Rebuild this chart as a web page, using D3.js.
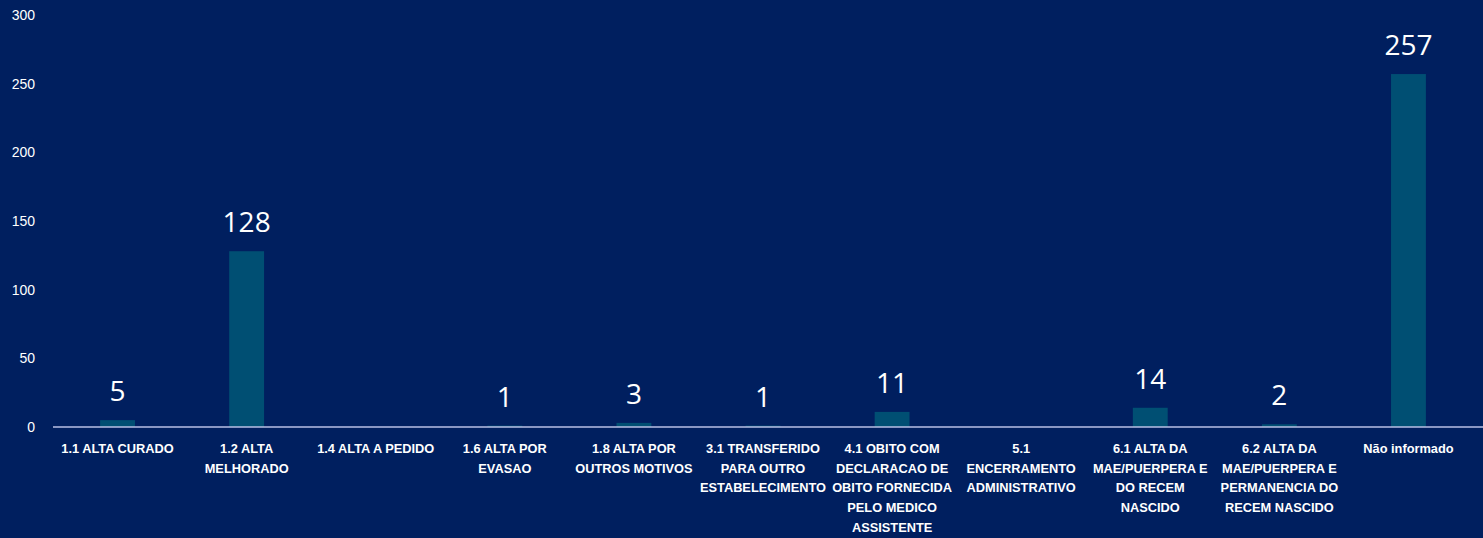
<!DOCTYPE html>
<html lang="pt">
<head>
    <meta charset="UTF-8">
    <title>Tipo de alta</title>
    <style>
        body { margin: 0; background: #001f5f; }
        svg { display: block; background: #001f5f; }
        .y-axis text { fill: #ffffff; font-family: "Liberation Sans", Arial, sans-serif; font-size: 14px; }
        .x-axis text { fill: #ffffff; font-family: "Liberation Sans", Arial, sans-serif; font-size: 12.8px; font-weight: bold; }
        .valor { fill: #ffffff; font-family: "Open Sans", sans-serif; font-size: 28px; text-anchor: middle; }
    </style>
</head>
<body>
    <svg id="grafico" width="1483" height="538"></svg>

    <script src="https://d3js.org/d3.v7.min.js"></script>
    <script>
        // dados
        const categorias = [
            "1.1 ALTA CURADO",
            "1.2 ALTA MELHORADO",
            "1.4 ALTA A PEDIDO",
            "1.6 ALTA POR EVASAO",
            "1.8 ALTA POR OUTROS MOTIVOS",
            "3.1 TRANSFERIDO PARA OUTRO ESTABELECIMENTO",
            "4.1 OBITO COM DECLARACAO DE OBITO FORNECIDA PELO MEDICO ASSISTENTE",
            "5.1 ENCERRAMENTO ADMINISTRATIVO",
            "6.1 ALTA DA MAE/PUERPERA E DO RECEM NASCIDO",
            "6.2 ALTA DA MAE/PUERPERA E PERMANENCIA DO RECEM NASCIDO",
            "Não informado"
        ];
        const valores = [5, 128, null, 1, 3, 1, 11, null, 14, 2, 257];
        const yTicks = [0, 50, 100, 150, 200, 250, 300];

        const width = 1483;
        const height = 538;
        const margin = { top: 15, right: 10, bottom: 111, left: 53 };

        const dados = categorias.map((c, i) => ({ cat: c, val: valores[i] }));

        const svg = d3.select("#grafico");

        const x = d3.scaleBand()
            .domain(categorias)
            .range([margin.left, width - margin.right])
            .paddingInner(0.73)
            .paddingOuter(0.365);

        const y = d3.scaleLinear()
            .domain([0, 300])
            .range([height - margin.bottom, margin.top]);

        // eixo y sem linha
        const yAxis = svg.append("g")
            .attr("class", "y-axis")
            .attr("transform", `translate(${margin.left - 18},0)`)
            .call(d3.axisLeft(y).tickValues(yTicks).tickSize(0).tickPadding(0));
        yAxis.select(".domain").remove();

        // barras
        svg.selectAll("rect.barra")
            .data(dados.filter(d => d.val != null))
            .enter()
            .append("rect")
            .attr("class", "barra")
            .attr("x", d => x(d.cat))
            .attr("y", d => y(d.val))
            .attr("width", x.bandwidth())
            .attr("height", d => y(0) - y(d.val))
            .attr("fill", "#004f73");

        // rótulos de valor
        svg.selectAll("text.valor")
            .data(dados.filter(d => d.val != null))
            .enter()
            .append("text")
            .attr("class", "valor")
            .attr("x", d => x(d.cat) + x.bandwidth() / 2)
            .attr("y", d => y(d.val) - 19)
            .text(d => d.val);

        // eixo x
        const xAxis = svg.append("g")
            .attr("class", "x-axis")
            .attr("transform", `translate(0,${y(0)})`)
            .call(d3.axisBottom(x).tickSize(0).tickPadding(0));
        xAxis.select(".domain").remove();

        svg.append("line")
            .attr("x1", margin.left)
            .attr("x2", width)
            .attr("y1", y(0))
            .attr("y2", y(0))
            .attr("stroke", "#b8c0e4")
            .attr("stroke-width", 1.5);

        // quebra dos rótulos em várias linhas
        function wrap(textos, largura) {
            textos.each(function () {
                const text = d3.select(this);
                const palavras = text.text().split(/\s+/);
                text.text(null);
                let linha = [];
                let n = 0;
                let tspan = text.append("tspan").attr("x", 0).attr("y", 26);
                palavras.forEach(p => {
                    linha.push(p);
                    tspan.text(linha.join(" "));
                    if (tspan.node().getComputedTextLength() > largura && linha.length > 1) {
                        linha.pop();
                        tspan.text(linha.join(" "));
                        linha = [p];
                        n++;
                        tspan = text.append("tspan").attr("x", 0).attr("y", 26 + n * 19.7).text(p);
                    }
                });
            });
        }

        xAxis.selectAll(".tick text")
            .attr("dy", 0)
            .call(wrap, 125);
    </script>
</body>
</html>
